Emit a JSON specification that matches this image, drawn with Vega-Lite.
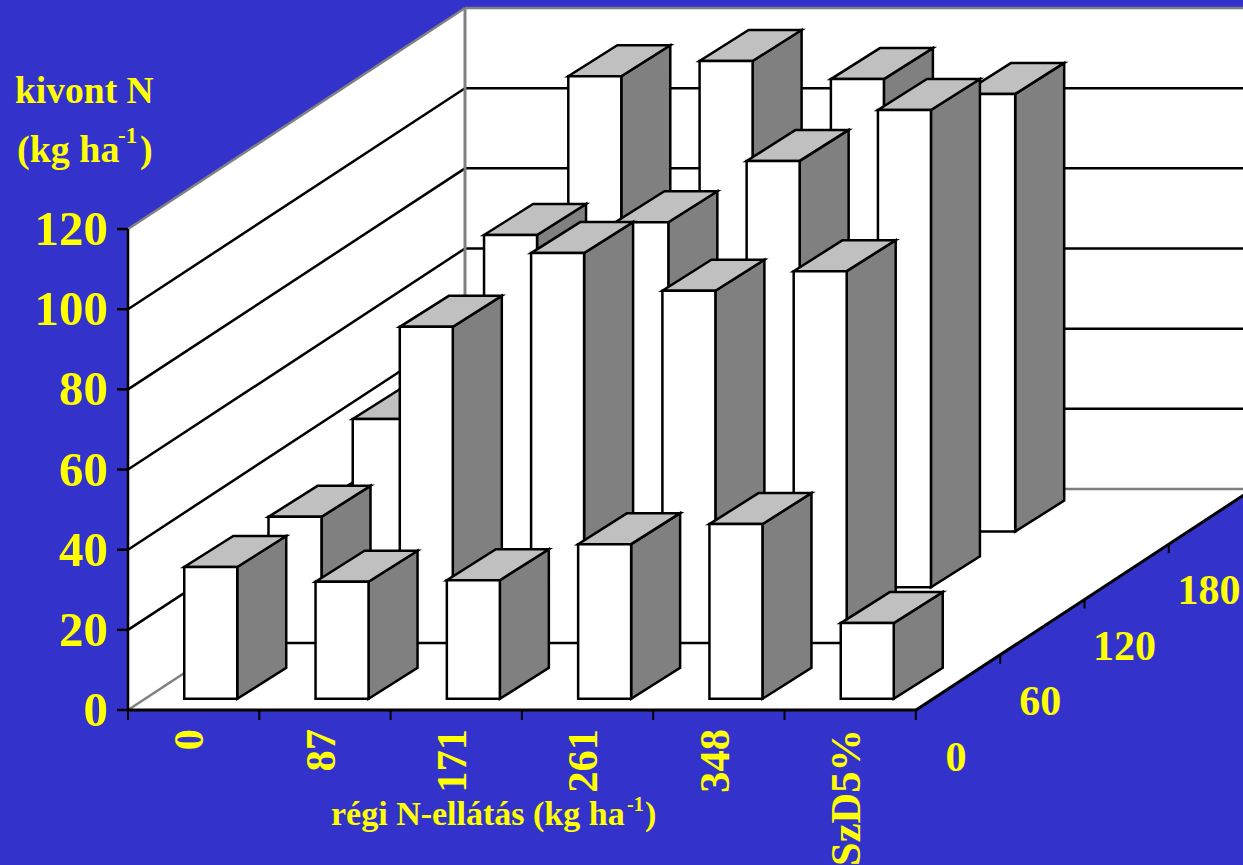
{
"$schema":"https://vega.github.io/schema/vega-lite/v6.json",
"width":1243,"height":865,"autosize":{"type":"none"},"padding":0,"background":"#3333CC",
"config":{"view":{"stroke":null},"text":{"font":"Liberation Serif","fontWeight":"bold","fill":"#FFFF00"}},
"datasets":{
"ertekek":[
{"regi":"0","uj":"0","kivont":32.9},{"regi":"87","uj":"0","kivont":29.2},{"regi":"171","uj":"0","kivont":29.6},{"regi":"261","uj":"0","kivont":38.6},{"regi":"348","uj":"0","kivont":43.6},{"regi":"SzD5%","uj":"0","kivont":18.9},
{"regi":"0","uj":"60","kivont":31.5},{"regi":"87","uj":"60","kivont":78.9},{"regi":"171","uj":"60","kivont":97.3},{"regi":"261","uj":"60","kivont":87.9},{"regi":"348","uj":"60","kivont":92.8},
{"regi":"0","uj":"120","kivont":42},{"regi":"87","uj":"120","kivont":87.9},{"regi":"171","uj":"120","kivont":91.1},{"regi":"261","uj":"120","kivont":106.4},{"regi":"348","uj":"120","kivont":119.1},
{"regi":"0","uj":"180","kivont":45},{"regi":"87","uj":"180","kivont":113.6},{"regi":"171","uj":"180","kivont":117.4},{"regi":"261","uj":"180","kivont":112.9},{"regi":"348","uj":"180","kivont":109.2}],
"skala":[{"kivont":0},{"kivont":20},{"kivont":40},{"kivont":60},{"kivont":80},{"kivont":100},{"kivont":120}],
"regiN":[{"regi":"0"},{"regi":"87"},{"regi":"171"},{"regi":"261"},{"regi":"348"},{"regi":"SzD5%"}],
"ujN":[{"uj":"0"},{"uj":"60"},{"uj":"120"},{"uj":"180"}],
"osztas":[{"n":0},{"n":1},{"n":2},{"n":3},{"n":4},{"n":5},{"n":6}],
"sarok":[{"n":0},{"n":1}]
},
"encoding":{
"x":{"field":"sx","type":"quantitative","stack":null,"axis":null,"scale":{"domain":[0,1243],"nice":false,"zero":false}},
"y":{"field":"sy","type":"quantitative","stack":null,"axis":null,"scale":{"domain":[865,0],"nice":false,"zero":false}}
},
"layer":[
{"data":{"name":"sarok"},"transform":[{"calculate":"128+datum.n*337","as":"sx"},{"calculate":"710-datum.n*221-481","as":"sy"},{"calculate":"710-datum.n*221","as":"sy2"}],"mark":{"type":"area","orient":"vertical","fill":"#FFFFFF"},"encoding":{"y2":{"field":"sy2"}}},
{"data":{"name":"sarok"},"transform":[{"calculate":"465+datum.n*788","as":"sx"},{"calculate":"8","as":"sy"},{"calculate":"489","as":"sy2"}],"mark":{"type":"area","orient":"vertical","fill":"#FFFFFF"},"encoding":{"y2":{"field":"sy2"}}},
{"data":{"name":"sarok"},"transform":[{"calculate":"128+datum.n*337","as":"sx"},{"calculate":"datum.sx+788","as":"sx2"},{"calculate":"710-datum.n*221","as":"sy"}],"mark":{"type":"area","orient":"horizontal","fill":"#FFFFFF"},"encoding":{"x2":{"field":"sx2"}}},
{"data":{"name":"skala"},"transform":[{"calculate":"128","as":"sx"},{"calculate":"465","as":"sx2"},{"calculate":"710-datum.kivont*4.008","as":"sy"},{"calculate":"datum.sy-221","as":"sy2"}],"mark":{"type":"rule","strokeWidth":2.5},"encoding":{"x2":{"field":"sx2"},"y2":{"field":"sy2"},"stroke":{"condition":{"test":"datum.kivont==0||datum.kivont==120","value":"#808080"},"value":"#000000"}}},
{"data":{"name":"skala"},"transform":[{"calculate":"465","as":"sx"},{"calculate":"1253","as":"sx2"},{"calculate":"489-datum.kivont*4.008","as":"sy"},{"calculate":"datum.sy","as":"sy2"}],"mark":{"type":"rule","strokeWidth":2.5},"encoding":{"x2":{"field":"sx2"},"y2":{"field":"sy2"},"stroke":{"condition":{"test":"datum.kivont==0||datum.kivont==120","value":"#808080"},"value":"#000000"}}},
{"data":{"name":"skala"},"transform":[{"filter":"datum.kivont==0"},{"calculate":"465","as":"sx"},{"calculate":"489","as":"sy"},{"calculate":"8","as":"sy2"}],"mark":{"type":"rule","strokeWidth":3,"stroke":"#808080"},"encoding":{"y2":{"field":"sy2"}}},
{"data":{"name":"ertekek"},
"transform":[
{"calculate":"indexof(['0','87','171','261','348','SzD5%'],datum.regi)","as":"i"},
{"calculate":"indexof(['0','60','120','180'],datum.uj)","as":"j"},
{"calculate":"[0,1]","as":"t"},{"flatten":["t"]},
{"calculate":"128+(datum.i+0.3)*131.3+(datum.j+0.2)*84.25+datum.t*49","as":"sx"},
{"calculate":"datum.sx+53","as":"sx2"},
{"calculate":"710-(datum.j+0.2)*55.75-datum.t*31","as":"sy2"},
{"calculate":"datum.sy2-datum.kivont*4.008","as":"sy"}],
"layer":[
{"transform":[{"filter":"datum.j==3"},{"calculate":"datum.sx2","as":"sx"}],"mark":{"type":"area","orient":"vertical","fill":"#808080","stroke":"#000000","strokeWidth":2.5},"encoding":{"y2":{"field":"sy2"},"detail":{"field":"regi"}}},
{"transform":[{"filter":"datum.j==3"}],"mark":{"type":"area","orient":"horizontal","fill":"#C0C0C0","stroke":"#000000","strokeWidth":2.5},"encoding":{"x2":{"field":"sx2"},"detail":{"field":"regi"}}},
{"transform":[{"filter":"datum.j==3&&datum.t==0"}],"mark":{"type":"rect","fill":"#FFFFFF","stroke":"#000000","strokeWidth":2.5},"encoding":{"x2":{"field":"sx2"},"y2":{"field":"sy2"}}},
{"transform":[{"filter":"datum.j==2"},{"calculate":"datum.sx2","as":"sx"}],"mark":{"type":"area","orient":"vertical","fill":"#808080","stroke":"#000000","strokeWidth":2.5},"encoding":{"y2":{"field":"sy2"},"detail":{"field":"regi"}}},
{"transform":[{"filter":"datum.j==2"}],"mark":{"type":"area","orient":"horizontal","fill":"#C0C0C0","stroke":"#000000","strokeWidth":2.5},"encoding":{"x2":{"field":"sx2"},"detail":{"field":"regi"}}},
{"transform":[{"filter":"datum.j==2&&datum.t==0"}],"mark":{"type":"rect","fill":"#FFFFFF","stroke":"#000000","strokeWidth":2.5},"encoding":{"x2":{"field":"sx2"},"y2":{"field":"sy2"}}},
{"transform":[{"filter":"datum.j==1"},{"calculate":"datum.sx2","as":"sx"}],"mark":{"type":"area","orient":"vertical","fill":"#808080","stroke":"#000000","strokeWidth":2.5},"encoding":{"y2":{"field":"sy2"},"detail":{"field":"regi"}}},
{"transform":[{"filter":"datum.j==1"}],"mark":{"type":"area","orient":"horizontal","fill":"#C0C0C0","stroke":"#000000","strokeWidth":2.5},"encoding":{"x2":{"field":"sx2"},"detail":{"field":"regi"}}},
{"transform":[{"filter":"datum.j==1&&datum.t==0"}],"mark":{"type":"rect","fill":"#FFFFFF","stroke":"#000000","strokeWidth":2.5},"encoding":{"x2":{"field":"sx2"},"y2":{"field":"sy2"}}},
{"transform":[{"filter":"datum.j==0"},{"calculate":"datum.sx2","as":"sx"}],"mark":{"type":"area","orient":"vertical","fill":"#808080","stroke":"#000000","strokeWidth":2.5},"encoding":{"y2":{"field":"sy2"},"detail":{"field":"regi"}}},
{"transform":[{"filter":"datum.j==0"}],"mark":{"type":"area","orient":"horizontal","fill":"#C0C0C0","stroke":"#000000","strokeWidth":2.5},"encoding":{"x2":{"field":"sx2"},"detail":{"field":"regi"}}},
{"transform":[{"filter":"datum.j==0&&datum.t==0"}],"mark":{"type":"rect","fill":"#FFFFFF","stroke":"#000000","strokeWidth":2.5},"encoding":{"x2":{"field":"sx2"},"y2":{"field":"sy2"}}}
]},
{"data":{"name":"skala"},"transform":[{"filter":"datum.kivont==0"},{"calculate":"128","as":"sx"},{"calculate":"710","as":"sy"},{"calculate":"229","as":"sy2"}],"mark":{"type":"rule","strokeWidth":2.5,"stroke":"#000000"},"encoding":{"y2":{"field":"sy2"}}},
{"data":{"name":"skala"},"transform":[{"filter":"datum.kivont==0"},{"calculate":"128","as":"sx"},{"calculate":"916","as":"sx2"},{"calculate":"710","as":"sy"}],"mark":{"type":"rule","strokeWidth":3,"stroke":"#000000"},"encoding":{"x2":{"field":"sx2"}}},
{"data":{"name":"skala"},"transform":[{"filter":"datum.kivont==0"},{"calculate":"916","as":"sx"},{"calculate":"1253","as":"sx2"},{"calculate":"710","as":"sy"},{"calculate":"489","as":"sy2"}],"mark":{"type":"rule","strokeWidth":3,"stroke":"#000000"},"encoding":{"x2":{"field":"sx2"},"y2":{"field":"sy2"}}},
{"data":{"name":"skala"},"transform":[{"calculate":"117","as":"sx"},{"calculate":"128","as":"sx2"},{"calculate":"710-datum.kivont*4.008","as":"sy"}],"mark":{"type":"rule","strokeWidth":2.5,"stroke":"#000000"},"encoding":{"x2":{"field":"sx2"}}},
{"data":{"name":"osztas"},"transform":[{"calculate":"128+datum.n*131.3","as":"sx"},{"calculate":"710","as":"sy"},{"calculate":"720","as":"sy2"}],"mark":{"type":"rule","strokeWidth":2,"stroke":"#000000"},"encoding":{"y2":{"field":"sy2"}}},
{"data":{"name":"ujN"},"transform":[{"calculate":"indexof(['0','60','120','180'],datum.uj)","as":"j"},{"filter":"datum.j>0"},{"calculate":"916+datum.j*84.25","as":"sx"},{"calculate":"710-datum.j*55.25","as":"sy"},{"calculate":"datum.sy+9","as":"sy2"}],"mark":{"type":"rule","strokeWidth":2,"stroke":"#000000"},"encoding":{"y2":{"field":"sy2"}}},
{"data":{"name":"skala"},"transform":[{"calculate":"108","as":"sx"},{"calculate":"711-datum.kivont*4.008","as":"sy"}],"mark":{"type":"text","align":"right","baseline":"middle","fontSize":49},"encoding":{"text":{"field":"kivont","type":"quantitative"}}},
{"data":{"name":"regiN"},"transform":[{"calculate":"indexof(['0','87','171','261','348','SzD5%'],datum.regi)","as":"i"},{"calculate":"128+(datum.i+0.475)*131.3","as":"sx"},{"calculate":"729","as":"sy"}],"mark":{"type":"text","align":"right","baseline":"middle","angle":270,"fontSize":42.5},"encoding":{"text":{"field":"regi","type":"nominal"}}},
{"data":{"name":"ujN"},"transform":[{"calculate":"indexof(['0','60','120','180'],datum.uj)","as":"j"},{"calculate":"956+datum.j*84.3","as":"sx"},{"calculate":"758-datum.j*55.7","as":"sy"}],"mark":{"type":"text","align":"center","baseline":"middle","fontSize":42},"encoding":{"text":{"field":"uj","type":"nominal"}}},
{"data":{"values":[{"felirat":"kivont N","bal":15,"alap":103,"meret":37.5},{"felirat":"(kg ha","bal":17,"alap":162,"meret":38},{"felirat":"-1","bal":118,"alap":143,"meret":23},{"felirat":")","bal":140,"alap":162,"meret":38},{"felirat":"régi N-ellátás (kg ha","bal":331,"alap":825,"meret":34},{"felirat":"-1","bal":627,"alap":811,"meret":20},{"felirat":")","bal":645,"alap":825,"meret":34}]},"transform":[{"calculate":"datum.bal","as":"sx"},{"calculate":"datum.alap","as":"sy"}],"mark":{"type":"text","align":"left","baseline":"alphabetic"},"encoding":{"text":{"field":"felirat","type":"nominal"},"size":{"field":"meret","type":"quantitative","scale":null,"legend":null}}}
]
}
